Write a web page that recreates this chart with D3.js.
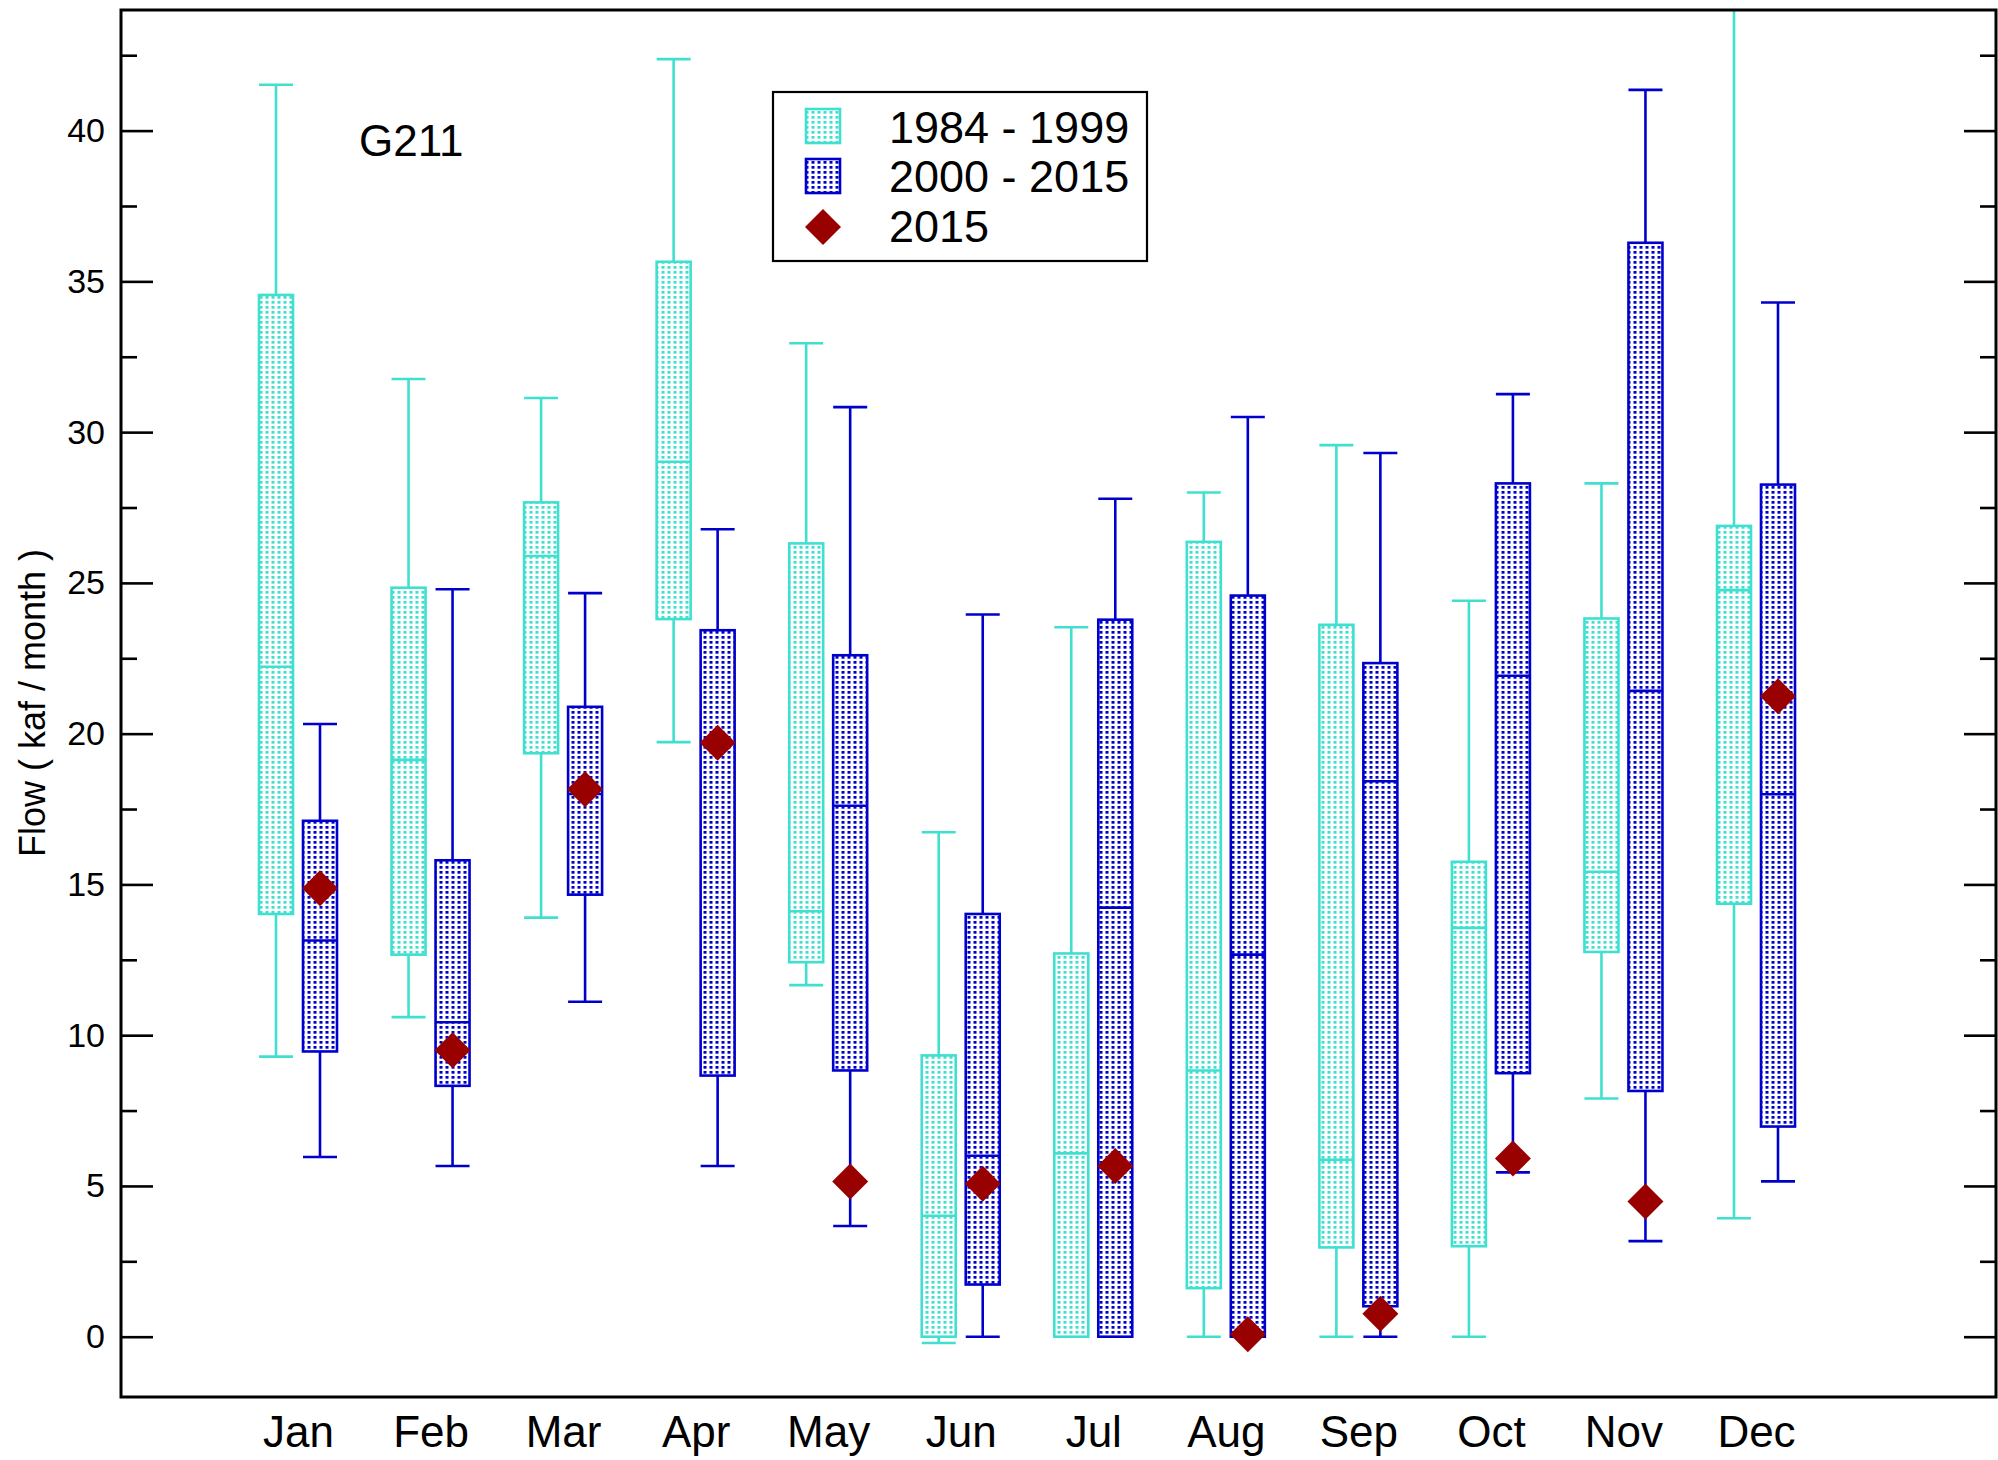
<!DOCTYPE html>
<html>
<head>
<meta charset="utf-8">
<script src="https://cdn.jsdelivr.net/npm/d3@7"></script>
<style>
  html, body { margin: 0; padding: 0; background: #fff; }
  svg text { font-family: "Liberation Sans", Arial, Helvetica, sans-serif; fill: #000; }
</style>
</head>
<body>
<svg id="chart" width="1998" height="1460"></svg>
<script>
// ---------------- data ----------------
const months = ["Jan","Feb","Mar","Apr","May","Jun","Jul","Aug","Sep","Oct","Nov","Dec"];
// box statistics: [low whisker, q1, median, q3, high whisker]
const period1Label = "1984 - 1999";
const period1 = [
  [9.29, 14.02, 22.22, 34.55, 41.52],
  [10.60, 12.67, 19.13, 24.84, 31.76],
  [13.90, 19.35, 25.89, 27.67, 31.13],
  [19.72, 23.80, 29.02, 35.65, 42.37],
  [11.66, 12.42, 14.11, 26.31, 32.95],
  [-0.21, 0.00, 4.01, 9.33, 16.73],
  [0.00, 0.00, 6.08, 12.71, 23.53],
  [0.00, 1.61, 8.83, 26.36, 28.00],
  [0.00, 2.96, 5.87, 23.61, 29.57],
  [0.00, 3.00, 13.56, 15.75, 24.41],
  [7.90, 12.76, 15.42, 23.82, 28.30],
  [3.93, 14.36, 24.76, 26.89, 47.00]
];
const period2Label = "2000 - 2015";
const period2 = [
  [5.96, 9.46, 13.14, 17.11, 20.32],
  [5.66, 8.32, 10.43, 15.80, 24.79],
  [11.11, 14.66, 18.00, 20.89, 24.66],
  [5.66, 8.66, 19.70, 23.43, 26.78],
  [3.67, 8.83, 17.61, 22.60, 30.83],
  [0.00, 1.73, 6.00, 14.02, 23.95],
  [0.00, 0.00, 14.23, 23.78, 27.79],
  [0.00, 0.00, 12.67, 24.58, 30.50],
  [0.00, 1.01, 18.42, 22.34, 29.31],
  [5.45, 8.74, 21.92, 28.30, 31.26],
  [3.17, 8.15, 21.42, 36.28, 41.35],
  [5.15, 6.97, 17.99, 28.26, 34.30]
];
const yearLabel = "2015";
const year2015 = [14.87, 9.50, 18.16, 19.70, 5.15, 5.07, 5.66, 0.08, 0.76, 5.91, 4.48, 21.24];
const yMajorTicks = [0, 5, 10, 15, 20, 25, 30, 35, 40];
const yMinorTicks = [2.5, 7.5, 12.5, 17.5, 22.5, 27.5, 32.5, 37.5, 42.5];
const stationLabel = "G211";
const yTitle = "Flow ( kaf / month )";

// ---------------- layout ----------------
const W = 1998, H = 1460;
const L = 121, R = 1996, T = 10, B = 1397;
const cCyan = "#40e0d0", cBlue = "#0000cd", cRed = "#990000";
const boxW = 34, offset = 22;

const svg = d3.select("#chart");
const x = d3.scalePoint().domain(months).range([298, 1756]);
const y = d3.scaleLinear().domain([-2, 44]).range([B, T]);

// patterns
const defs = svg.append("defs");
function makePattern(id, color) {
  const p = defs.append("pattern").attr("id", id).attr("patternUnits", "userSpaceOnUse")
    .attr("width", 6).attr("height", 5);
  p.append("rect").attr("width", 6).attr("height", 5).attr("fill", "#fff");
  p.append("rect").attr("x", 1.5).attr("y", 1).attr("width", 3).attr("height", 2.7).attr("fill", color);
}
makePattern("patCyan", cCyan);
makePattern("patBlue", cBlue);
defs.append("clipPath").attr("id", "plotClip").append("rect")
  .attr("x", L).attr("y", T).attr("width", R - L).attr("height", B - T);

const plot = svg.append("g").attr("clip-path", "url(#plotClip)");

function drawBoxes(data, color, pat, dx) {
  const g = plot.append("g");
  data.forEach((d, i) => {
    const cx = x(months[i]) + dx;
    const [lo, q1, med, q3, hi] = d;
    const gg = g.append("g").attr("stroke", color).attr("stroke-width", 2.6).attr("fill", "none");
    // whiskers
    gg.append("line").attr("x1", cx).attr("x2", cx).attr("y1", y(lo)).attr("y2", y(q1));
    gg.append("line").attr("x1", cx).attr("x2", cx).attr("y1", y(q3)).attr("y2", y(hi));
    gg.append("line").attr("x1", cx - boxW / 2).attr("x2", cx + boxW / 2).attr("y1", y(lo)).attr("y2", y(lo));
    gg.append("line").attr("x1", cx - boxW / 2).attr("x2", cx + boxW / 2).attr("y1", y(hi)).attr("y2", y(hi));
    // box
    gg.append("rect").attr("x", cx - boxW / 2).attr("y", y(q3)).attr("width", boxW)
      .attr("height", y(q1) - y(q3)).attr("fill", `url(#${pat})`);
    // median
    gg.append("line").attr("x1", cx - boxW / 2).attr("x2", cx + boxW / 2).attr("y1", y(med)).attr("y2", y(med));
  });
}
drawBoxes(period1, cCyan, "patCyan", -offset);
drawBoxes(period2, cBlue, "patBlue", offset);

const diamond = d3.symbol().type(d3.symbolDiamond2).size(826);
plot.append("g").selectAll("path").data(year2015).join("path")
  .attr("d", diamond)
  .attr("transform", (d, i) => `translate(${x(months[i]) + offset},${y(d)})`)
  .attr("fill", cRed);

// axes
const axL = svg.append("g").attr("transform", `translate(${L},0)`)
  .call(d3.axisLeft(y).tickValues(yMajorTicks).tickSize(-32).tickPadding(16).tickFormat(d3.format("d")));
const axLm = svg.append("g").attr("transform", `translate(${L},0)`)
  .call(d3.axisLeft(y).tickValues(yMinorTicks).tickSize(-16).tickFormat(""));
const axR = svg.append("g").attr("transform", `translate(${R},0)`)
  .call(d3.axisRight(y).tickValues(yMajorTicks).tickSize(-32).tickFormat(""));
const axRm = svg.append("g").attr("transform", `translate(${R},0)`)
  .call(d3.axisRight(y).tickValues(yMinorTicks).tickSize(-16).tickFormat(""));
const axB = svg.append("g").attr("transform", `translate(0,${B})`)
  .call(d3.axisBottom(x).tickSize(0).tickPadding(19));
[axL, axLm, axR, axRm, axB].forEach(a => {
  a.select(".domain").remove();
  a.selectAll(".tick line").attr("stroke", "#000").attr("stroke-width", 2.6);
});
axL.selectAll("text").style("font-size", "34px");
axB.selectAll("text").style("font-size", "44px");

// frame
svg.append("rect").attr("x", L).attr("y", T).attr("width", R - L).attr("height", B - T)
  .attr("fill", "none").attr("stroke", "#000").attr("stroke-width", 3);

// station label
svg.append("text").attr("x", 359).attr("y", 156).style("font-size", "44px").text(stationLabel);

// y title
svg.append("text").attr("transform", "translate(45,703) rotate(-90)")
  .attr("text-anchor", "middle").style("font-size", "36px").text(yTitle);

// legend
const lg = svg.append("g");
lg.append("rect").attr("x", 773).attr("y", 92).attr("width", 374).attr("height", 169)
  .attr("fill", "#fff").attr("stroke", "#000").attr("stroke-width", 2.2);
lg.append("rect").attr("x", 806).attr("y", 109).attr("width", 34).attr("height", 34)
  .attr("fill", "url(#patCyan)").attr("stroke", cCyan).attr("stroke-width", 2.6);
lg.append("rect").attr("x", 806).attr("y", 159).attr("width", 34).attr("height", 34)
  .attr("fill", "url(#patBlue)").attr("stroke", cBlue).attr("stroke-width", 2.6);
lg.append("path").attr("d", diamond).attr("transform", "translate(823,227)").attr("fill", cRed);
[[period1Label, 143], [period2Label, 192], [yearLabel, 242]].forEach(([t, by]) => {
  lg.append("text").attr("x", 889).attr("y", by).style("font-size", "45px").text(t);
});
</script>
</body>
</html>
